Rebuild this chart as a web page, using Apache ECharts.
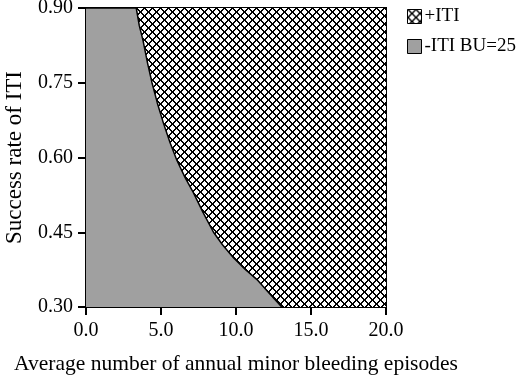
<!DOCTYPE html>
<html>
<head>
<meta charset="utf-8">
<script src="https://cdn.jsdelivr.net/npm/echarts@6/dist/echarts.min.js"></script>
<style>
  html, body { margin: 0; padding: 0; background: #fff; }
  #chart { width: 520px; height: 376px; }
</style>
</head>
<body>
<div id="chart"></div>
<script>
// boundary between the two strategies
const boundaryX = [0, 3.35, 3.55, 3.8, 4.1, 4.4, 4.75, 5.15, 5.6, 6.05, 6.6, 7.15, 7.8, 8.5, 9.1, 9.8, 10.6, 11.4, 12.2, 13.05];
const boundaryY = [0.90, 0.90, 0.865, 0.835, 0.79, 0.75, 0.71, 0.67, 0.63, 0.595, 0.56, 0.53, 0.49, 0.45, 0.425, 0.40, 0.376, 0.355, 0.328, 0.30];
const xTicks = [0, 5, 10, 15, 20];
const yTicks = [0.30, 0.45, 0.60, 0.75, 0.90];
const seriesNames = ["+ITI", "-ITI BU=25"];

// cross hatch tile
function hatch() {
  const c = document.createElement("canvas");
  c.width = 8; c.height = 8;
  const g = c.getContext("2d");
  g.fillStyle = "#fff";
  g.fillRect(0, 0, 8, 8);
  g.fillStyle = "#000";
  for (let i = 0; i < 8; i++) {
    g.fillRect(i, i, 1, 1);
    g.fillRect((i + 1) % 8, i, 1, 1);
    g.fillRect(7 - i, i, 1, 1);
    g.fillRect((8 - i) % 8, i, 1, 1);
  }
  return { image: c, repeat: "repeat" };
}
const hatchFill = hatch();
const grayFill = "#a0a0a0";
const font = "Liberation Serif";

const chart = echarts.init(document.getElementById("chart"));
chart.setOption({
  backgroundColor: "#fff",
  animation: false,
  grid: {
    left: 86, right: 134, top: 8, bottom: 69,
    outerBoundsMode: "none",
    show: true, borderColor: "#000", borderWidth: 2, backgroundColor: "transparent"
  },
  legend: {
    orient: "vertical",
    left: 402, top: 2,
    itemWidth: 14, itemHeight: 14, itemGap: 11,
    textStyle: { fontFamily: font, fontSize: 19, color: "#000", padding: [0, 0, 0, -2] },
    data: [
      { name: seriesNames[0], icon: "rect", itemStyle: { color: hatchFill, borderColor: "#000", borderWidth: 1 } },
      { name: seriesNames[1], icon: "rect", itemStyle: { color: grayFill, borderColor: "#000", borderWidth: 1 } }
    ]
  },
  xAxis: {
    type: "value",
    min: xTicks[0], max: xTicks[xTicks.length - 1], interval: xTicks[1] - xTicks[0],
    name: "Average number of annual minor bleeding episodes",
    nameLocation: "middle", nameGap: 46,
    nameTextStyle: { fontFamily: font, fontSize: 21.5, color: "#000" },
    axisLine: { lineStyle: { color: "#000", width: 2 } },
    axisTick: { length: 8, lineStyle: { color: "#000", width: 2 } },
    axisLabel: { fontFamily: font, fontSize: 20, color: "#000", margin: 14, formatter: v => v.toFixed(1) },
    splitLine: { show: false }
  },
  yAxis: {
    type: "value",
    min: yTicks[0], max: yTicks[yTicks.length - 1], interval: 0.15,
    name: "Success rate of ITI",
    nameLocation: "middle", nameGap: 60,
    nameTextStyle: { fontFamily: font, fontSize: 23, color: "#000" },
    axisLine: { lineStyle: { color: "#000", width: 2 } },
    axisTick: { length: 8, lineStyle: { color: "#000", width: 2 } },
    axisLabel: { fontFamily: font, fontSize: 20, color: "#000", margin: 13, formatter: v => v.toFixed(2) },
    splitLine: { show: false }
  },
  series: [
    {
      name: seriesNames[0],
      type: "line",
      data: [[xTicks[0], yTicks[yTicks.length - 1]], [xTicks[xTicks.length - 1], yTicks[yTicks.length - 1]]],
      showSymbol: false,
      lineStyle: { width: 0 },
      itemStyle: { color: hatchFill },
      areaStyle: { color: hatchFill, opacity: 1, origin: "start" },
      z: 1
    },
    {
      name: seriesNames[1],
      type: "line",
      data: boundaryX.map((x, i) => [x, boundaryY[i]]),
      showSymbol: false,
      lineStyle: { color: "#000", width: 1.5 },
      itemStyle: { color: grayFill },
      areaStyle: { color: grayFill, opacity: 1, origin: "start" },
      z: 2
    }
  ]
});
</script>
</body>
</html>
